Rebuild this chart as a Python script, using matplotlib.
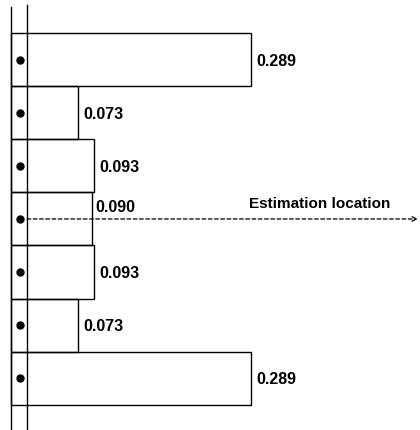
#!/usr/bin/env python3
"""Histogram-style bars around an estimation location."""

import matplotlib

matplotlib.use("Agg")
import matplotlib.pyplot as plt
import numpy as np

# data
bar_values = [0.289, 0.073, 0.093, 0.090, 0.093, 0.073, 0.289]
value_labels = ["0.289", "0.073", "0.093", "0.090", "0.093", "0.073", "0.289"]
estimate_index = 3
estimate_label = "Estimation location"

plt.rcParams["font.family"] = ["Liberation Sans", "DejaVu Sans"]


def main() -> None:
    fig = plt.figure(figsize=(4.2, 4.3), dpi=100)
    ax = fig.add_axes([0, 0, 1, 1])

    n = len(bar_values)
    y = np.arange(n)
    vals = np.array(bar_values)

    # bars start a little left of the zero (dot) column
    bar_left = -0.0106
    rail_right = 0.0094

    ax.barh(
        y,
        vals - bar_left,
        left=bar_left,
        height=1.0,
        fill=False,
        edgecolor="black",
        linewidth=1.0,
    )

    # the two vertical rails
    ax.axvline(bar_left, ymin=0.0, ymax=0.984, color="black", lw=1.0)
    ax.axvline(rail_right, ymin=0.0, ymax=0.988, color="black", lw=1.0)

    # dots at zero
    ax.plot(np.zeros(n), y, "o", color="black", ms=5)

    # value labels
    for i, (v, lab) in enumerate(zip(vals, value_labels)):
        if i == estimate_index:
            ax.annotate(lab, (v, i), xytext=(3, 3), textcoords="offset points",
                        ha="left", va="bottom", fontsize=11.5, fontweight="bold")
        else:
            ax.annotate(lab, (v, i), xytext=(4, -1), textcoords="offset points",
                        ha="left", va="center", fontsize=11.5, fontweight="bold")

    # dashed estimation arrow
    ax.annotate(
        "",
        xy=(0.498, estimate_index),
        xytext=(rail_right, estimate_index),
        arrowprops=dict(arrowstyle="->", linestyle=(0, (3, 2)), lw=0.9,
                        color="black", shrinkA=0, shrinkB=0, mutation_scale=8),
    )
    ax.annotate(estimate_label, (0.375, estimate_index), xytext=(0, 6),
                textcoords="offset points", ha="center", va="bottom",
                fontsize=11, fontweight="bold")

    ax.set_xlim(-0.0244, 0.5006)
    ax.set_ylim(6.98, -1.13)
    ax.axis("off")

    fig.savefig("out.png", dpi=100)
    plt.close(fig)


if __name__ == "__main__":
    main()
